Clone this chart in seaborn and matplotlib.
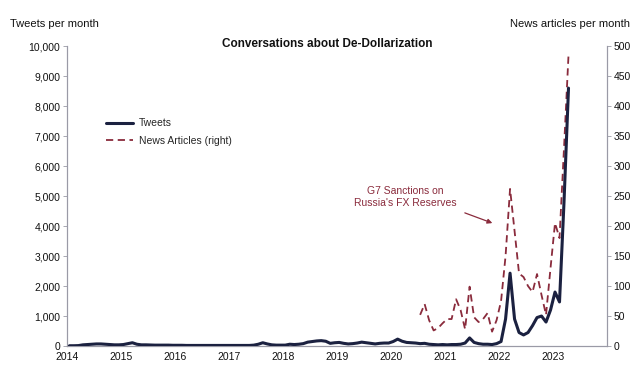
import numpy as np
import pandas as pd
import matplotlib
matplotlib.use("Agg")
import matplotlib.pyplot as plt
import seaborn as sns

# ---- data (monthly) ----
tweets_2014 = [10, 10, 15, 40, 50, 60, 70, 70, 60, 50, 40, 40]
tweets_2015 = [50, 80, 110, 60, 40, 40, 35, 30, 30, 30, 30, 25]
tweets_2016 = [25, 25, 20, 20, 20, 20, 20, 20, 20, 20, 20, 20]
tweets_2017 = [20, 20, 20, 20, 20, 30, 60, 110, 70, 40, 30, 30]
tweets_2018 = [30, 60, 50, 60, 80, 130, 150, 170, 180, 160, 90, 110]
tweets_2019 = [120, 90, 70, 80, 100, 130, 110, 90, 70, 90, 100, 100]
tweets_2020 = [150, 230, 160, 120, 110, 100, 80, 90, 60, 50, 40, 50]
tweets_2021 = [40, 50, 50, 60, 100, 270, 120, 80, 60, 60, 50, 80]
tweets_2022 = [150, 900, 2430, 900, 450, 370, 450, 680, 950, 1000, 800, 1200]
tweets_2023 = [1800, 1470, 4800, 8600]

news_2020 = [52, 70, 43, 26, 30, 38]          # Jul-Dec 2020
news_2021 = [45, 45, 78, 60, 28, 99, 48, 40, 45, 55, 24, 43]
news_2022 = [75, 150, 262, 192, 121, 115, 100, 90, 120, 85, 52, 130]
news_2023 = [205, 180, 330, 485]

year_ticks = list(range(2014, 2024))
left_ticks = list(range(0, 10001, 1000))
right_ticks = list(range(0, 501, 50))

tweets = (tweets_2014 + tweets_2015 + tweets_2016 + tweets_2017 + tweets_2018 +
          tweets_2019 + tweets_2020 + tweets_2021 + tweets_2022 + tweets_2023)
news = news_2020 + news_2021 + news_2022 + news_2023

t_time = 2014 + (np.arange(len(tweets)) + 0.5) / 12
n_time = 2020 + (6 + np.arange(len(news)) + 0.5) / 12

df_t = pd.DataFrame({"time": t_time, "value": tweets})
df_n = pd.DataFrame({"time": n_time, "value": news})

sns.set_style("white")
plt.rcParams["font.family"] = ["Liberation Sans", "DejaVu Sans"]

NAVY = "#1b2140"
RED = "#8a2b3c"
GREY = "#9a9aa6"

fig = plt.figure(figsize=(6.4, 3.91), dpi=100)
ax = fig.add_axes([0.105, 0.115, 0.843, 0.767])
ax2 = ax.twinx()

sns.lineplot(data=df_t, x="time", y="value", ax=ax, color=NAVY, lw=2.2,
             label="Tweets", legend=False, zorder=3)
sns.lineplot(data=df_n, x="time", y="value", ax=ax2, color=RED, lw=1.3,
             linestyle=(0, (4, 2.5)), label="News Articles (right)", legend=False)
ax.set_zorder(ax2.get_zorder() + 1)
ax.patch.set_visible(False)

ax.set_xlim(2014, 2024)
ax.set_ylim(0, 10000)
ax2.set_ylim(0, 500)
ax.set_xticks(year_ticks)
ax.set_xticklabels([str(y) for y in year_ticks], fontsize=7.5)
ax.set_yticks(left_ticks)
ax.set_yticklabels([f"{v:,}" for v in left_ticks], fontsize=7.5)
ax2.set_yticks(right_ticks)
ax2.set_yticklabels([str(v) for v in right_ticks], fontsize=7.5)
ax.set_xlabel("")
ax.set_ylabel("")
ax2.set_ylabel("")

for a in (ax, ax2):
    a.spines["top"].set_visible(False)
    for s in ("left", "right", "bottom"):
        a.spines[s].set_color(GREY)
        a.spines[s].set_linewidth(0.8)
    a.tick_params(axis="both", which="major", length=3, width=0.6,
                  color=GREY, pad=2, labelcolor="#111111")
ax.tick_params(axis="x", length=2)

# titles / axis captions
fig.text(0.511, 0.873, "Conversations about De-Dollarization", fontsize=8.5,
         fontweight="bold", ha="center", va="bottom", color="#111111")
fig.text(0.016, 0.925, "Tweets per month", fontsize=8, ha="left",
         va="bottom", color="#111111")
fig.text(0.984, 0.925, "News articles per month", fontsize=8, ha="right",
         va="bottom", color="#111111")

# annotation
ax2.text(2020.26, 248, "G7 Sanctions on\nRussia's FX Reserves",
         fontsize=7.5, color=RED, ha="center", va="center")
ax2.annotate("", xy=(2021.88, 205), xytext=(2021.37, 222),
             arrowprops=dict(arrowstyle="-|>", color=RED, lw=0.9,
                             mutation_scale=7, shrinkA=0, shrinkB=0))

# legend
h1, l1 = ax.get_legend_handles_labels()
h2, l2 = ax2.get_legend_handles_labels()
leg = ax.legend(h1 + h2, l1 + l2, loc="upper left",
                bbox_to_anchor=(0.055, 0.79), frameon=False, fontsize=7.5,
                handlelength=2.6, handletextpad=0.5, labelspacing=0.7)

fig.savefig("out.png", dpi=100)
